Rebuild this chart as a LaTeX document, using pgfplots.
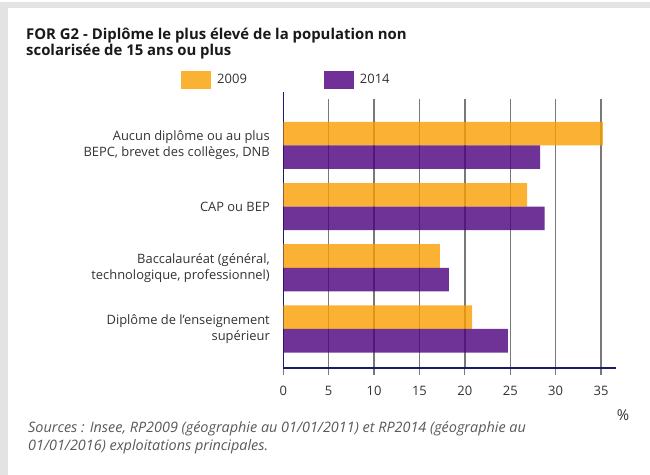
\documentclass[border=0pt]{standalone}
\usepackage{fontspec}
\setmainfont{Open Sans}
\usepackage{pgfplots}
\pgfplotsset{compat=1.18}
\definecolor{c09}{RGB}{250,158,0}
\definecolor{c14}{RGB}{75,0,126}
\definecolor{c09l}{HTML}{FBB131}
\definecolor{c14l}{HTML}{6F3198}
\definecolor{axisblue}{HTML}{1A1A6E}
\definecolor{gridgray}{HTML}{787878}
\definecolor{txt}{HTML}{333333}
\definecolor{framegray}{HTML}{E3E3E3}
\begin{document}
\begin{tikzpicture}
\fill[white] (0bp,0bp) rectangle (650bp,-475bp);
\fill[framegray] (0bp,-2bp) rectangle (650bp,-8bp);
\fill[framegray] (0bp,-2bp) rectangle (8bp,-475bp);
\node[anchor=base west, inner sep=0pt, text=black!90, font=\bfseries\fontsize{14.9bp}{16bp}\selectfont] at (26bp,-39.3bp) {FOR G2 - Diplôme le plus élevé de la population non};
\node[anchor=base west, inner sep=0pt, text=black!90, font=\bfseries\fontsize{14.9bp}{16bp}\selectfont] at (26bp,-55.5bp) {scolarisée de 15 ans ou plus};
\begin{axis}[
  at={(283.3bp,-368bp)}, anchor=south west,
  scale only axis, width=332.7bp, height=269.3bp,
  xmin=0, xmax=36.65, ymin=-0.638, ymax=3.764,
  axis x line=bottom, axis y line=left,
  axis line style={axisblue, line width=1.3bp, -},
  y axis line style={shorten >=-7bp},
  xtick={0,5,10,15,20,25,30,35},
  ytick={0,1,2,3},
  yticklabels={{Diplôme de l’enseignement\\supérieur},{Baccalauréat (général,\\technologique, professionnel)},{CAP ou BEP},{Aucun diplôme ou au plus\\BEPC, brevet des collèges, DNB}},
  tick align=outside, major tick length=7bp,
  xtick style={gridgray, line width=1.2bp},
  ytick style={draw=none},
  xmajorgrids, grid style={gridgray, line width=1.3bp},
  /pgf/number format/assume math mode=true,
  x tick label style={font=\fontsize{13bp}{14bp}\selectfont, text=txt, yshift=-8bp},
  y tick label style={font=\fontsize{12.9bp}{16bp}\selectfont, text=txt, align=right, xshift=-3bp},
  xbar, bar width=0.385,
  legend columns=2,
  legend style={at={(-0.3075,1.0695)}, anchor=west, draw=none, fill=none, inner sep=0pt,
    font=\fontsize{13bp}{14bp}\selectfont, text=txt,
    nodes={inner sep=2bp},
    /tikz/every odd column/.append style={column sep=4bp},
    /tikz/every even column/.append style={column sep=75bp}},
]
\addplot[fill=c09, draw=none, fill opacity=0.8, bar shift=0.1925,
  legend image code/.code={\fill[c09l, fill opacity=1] (0bp,-9bp) rectangle (30bp,9bp);}]
  coordinates {(35.2,3) (26.85,2) (17.25,1) (20.8,0)};
\addlegendentry{2009}
\addplot[fill=c14, draw=none, fill opacity=0.8, bar shift=-0.1925,
  legend image code/.code={\fill[c14l, fill opacity=1] (0bp,-9bp) rectangle (30bp,9bp);}]
  coordinates {(28.3,3) (28.8,2) (18.25,1) (24.75,0)};
\addlegendentry{2014}
\end{axis}
\node[text=txt, font=\fontsize{15bp}{16bp}\selectfont] at (623bp,-415bp) {\%};
\node[anchor=base west, inner sep=0pt, text=black!65, font=\itshape\fontsize{14.4bp}{18bp}\selectfont] at (28bp,-432bp) {Sources : Insee, RP2009 (géographie au 01/01/2011) et RP2014 (géographie au};
\node[anchor=base west, inner sep=0pt, text=black!65, font=\itshape\fontsize{14.4bp}{18bp}\selectfont] at (28bp,-450bp) {01/01/2016) exploitations principales.};
\end{tikzpicture}
\end{document}
